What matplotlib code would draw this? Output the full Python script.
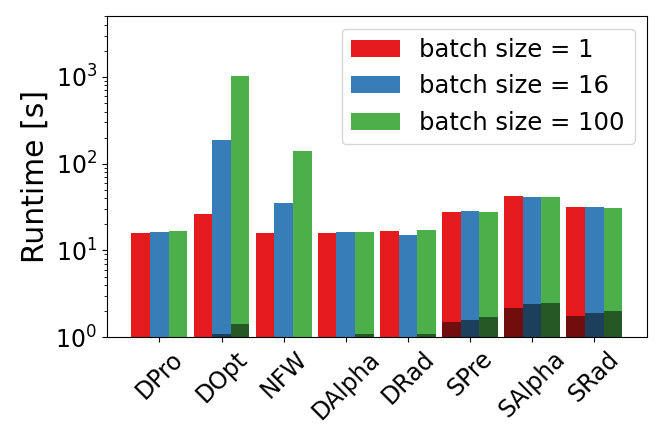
import numpy as np
import matplotlib
matplotlib.use('Agg')
import matplotlib.pyplot as plt

# runtimes (log scale)
methods = ['DPro', 'DOpt', 'NFW', 'DAlpha', 'DRad', 'SPre', 'SAlpha', 'SRad']
batch_labels = ['batch size = 1', 'batch size = 16', 'batch size = 100']

total_b1 = [15.8, 26.2, 15.7, 15.7, 16.9, 27.4, 42.0, 31.9]
total_b16 = [16.3, 190.0, 34.8, 16.1, 15.2, 28.2, 40.9, 31.3]
total_b100 = [16.6, 1015.0, 141.0, 16.4, 17.0, 27.4, 41.6, 30.8]

# darker bottom part of each bar (0 = not visible)
part_b1 = [0, 0, 0, 0, 0, 1.49, 2.18, 1.77]
part_b16 = [0, 1.08, 0, 0, 0, 1.59, 2.38, 1.89]
part_b100 = [0, 1.40, 0, 1.08, 1.08, 1.69, 2.47, 1.98]

colors = ['#e41a1c', '#377eb8', '#4daf4a']
dark = ['#720d0e', '#1c3f5c', '#265825']

totals = [total_b1, total_b16, total_b100]
parts = [part_b1, part_b16, part_b100]

fig = plt.figure(figsize=(6.64, 4.43), dpi=100)
ax = fig.add_axes([0.161, 0.239, 0.813, 0.724])

x = np.arange(len(methods))
width = 0.3
for i in range(3):
    pos = x + (i - 1) * width
    ax.bar(pos, totals[i], width, color=colors[i], label=batch_labels[i])
    ax.bar(pos, parts[i], width, color=dark[i])

ax.set_yscale('log')
ax.set_ylim(1, 5000)
ax.set_xticks(x)
ax.set_xticklabels(methods, rotation=45, fontsize=17)
ax.tick_params(axis='y', labelsize=17)
ax.set_ylabel('Runtime [s]', fontsize=21.5)
ax.legend(loc='upper right', fontsize=17.5)

plt.savefig('out.png', dpi=100)
